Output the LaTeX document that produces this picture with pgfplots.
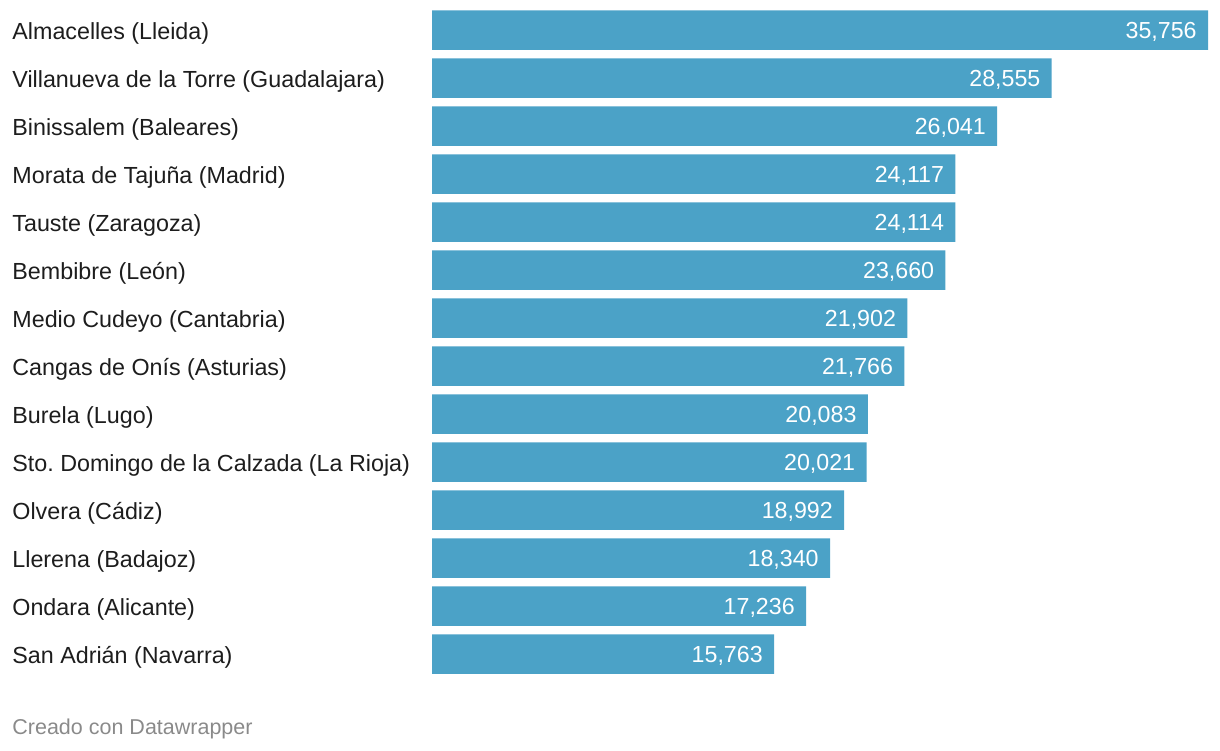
\documentclass[border=0pt]{standalone}
\usepackage{pgfplots}
\pgfplotsset{compat=1.18}
\usepackage{fontspec}
\setmainfont{Liberation Sans}
\definecolor{barblue}{HTML}{4BA2C7}
\definecolor{txt}{HTML}{1D1D1D}
\definecolor{foot}{HTML}{8A8A8A}
\frenchspacing
\begin{document}
\begin{tikzpicture}[x=0.5pt,y=-0.5pt]
\path[use as bounding box] (0,0) rectangle (1220,750);
\begin{axis}[
  at={(432pt*0.5,-6pt*0.5)}, anchor=north west,
  scale only axis,
  width=388pt, height=336pt,
  xbar, bar width=19.75pt,
  xmin=0, xmax=35756,
  ymin=-0.5, ymax=13.5, y dir=reverse,
  axis line style={draw=none},
  xtick=\empty,
  ytick={0,...,13},
  yticklabels={Almacelles (Lleida),Villanueva de la Torre (Guadalajara),Binissalem (Baleares),Morata de Tajuña (Madrid),Tauste (Zaragoza),Bembibre (León),Medio Cudeyo (Cantabria),Cangas de Onís (Asturias),Burela (Lugo),Sto. Domingo de la Calzada (La Rioja),Olvera (Cádiz),Llerena (Badajoz),Ondara (Alicante),San Adrián (Navarra)},
  yticklabel style={anchor=west, inner sep=0pt, xshift=-210pt, yshift=-1.5pt, font=\fontsize{11.65}{13}\selectfont, text=txt},
  major tick length=0pt,
  tick style={draw=none},
  clip=false,
  /pgf/number format/assume math mode=true,
  nodes near coords={\pgfmathprintnumber[fixed,precision=0,1000 sep={,},assume math mode=true]{\pgfplotspointmeta}},
  nodes near coords style={anchor=east, inner sep=0pt, xshift=-5.5pt, yshift=-1pt, text=white, font=\fontsize{11.6}{13}\selectfont},
]
\addplot[draw=none, fill=barblue] coordinates {
(35756,0) (28555,1) (26041,2) (24117,3) (24114,4) (23660,5) (21902,6) (21766,7) (20083,8) (20021,9) (18992,10) (18340,11) (17236,12) (15763,13)
};
\end{axis}
\node[anchor=west, inner sep=0pt, text=foot, font=\fontsize{10.75}{12}\selectfont] at (12,729) {Creado con Datawrapper};
\end{tikzpicture}
\end{document}
